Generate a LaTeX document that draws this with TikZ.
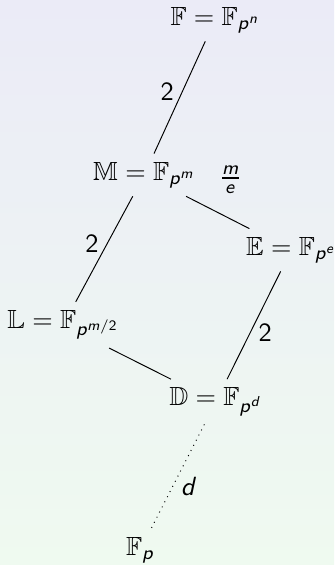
\documentclass[tikz,border=0pt]{standalone}
\usepackage{amsmath}
\usepackage{amssymb}
\usepackage{tikz}
\usetikzlibrary{positioning}

\DeclareMathAlphabet{\mathsfit}{OT1}{cmss}{m}{sl}
\newcommand{\Fq}[1]{\mathbb{F}_{\mathsfit{p}^{#1}}}
\definecolor{bgtop}{RGB}{235,235,247}
\definecolor{bgbot}{RGB}{239,250,240}

\begin{document}
\begin{tikzpicture}[on grid,auto,
    every node/.style={font=\fontsize{10.95}{13.6}\selectfont}]

  % Sfondo
  \shade[top color=bgtop,bottom color=bgbot] (0,0) rectangle (139.2pt,-235.4pt);
  \useasboundingbox (0,0) rectangle (139.2pt,-235.4pt);

  % Campi
  \node (F) at (89.6pt,-8.3pt) {$\mathbb{F}=\Fq{\mathsfit{n}}$};
  \node[below left=64.6pt and 29.5pt of F] (M) {$\mathbb{M}=\Fq{\mathsfit{m}}$};
  \node[below right=31.25pt and 61.25pt of M] (E) {$\mathbb{E}=\Fq{\mathsfit{e}}$};
  \node[below left=62.5pt and 33.75pt of M] (L) {$\mathbb{L}=\Fq{\mathsfit{m}\mathsf{/2}}$};
  \node[below right=32pt and 63.6pt of L] (D) {$\mathbb{D}=\Fq{\mathsfit{d}}$};
  \node[below left=61.7pt and 31.5pt of D] (P) {$\mathbb{F}_{\mathsfit{p}}$};

  % Estensioni
  \path
    (F) edge node[left,pos=0.45] {$\mathsf{2}$} (M)
    (M) edge node[pos=0.7,above=7pt] {$\frac{\mathsfit{m}}{\mathsfit{e}}$} (E)
    (M) edge node[left,pos=0.45] {$\mathsf{2}$} (L)
    (L) edge (D)
    (E) edge node[right,pos=0.57] {$\mathsf{2}$} (D)
    (D) edge[dotted] node[right,pos=0.6] {$\mathsfit{d}$} (P);

\end{tikzpicture}
\end{document}
